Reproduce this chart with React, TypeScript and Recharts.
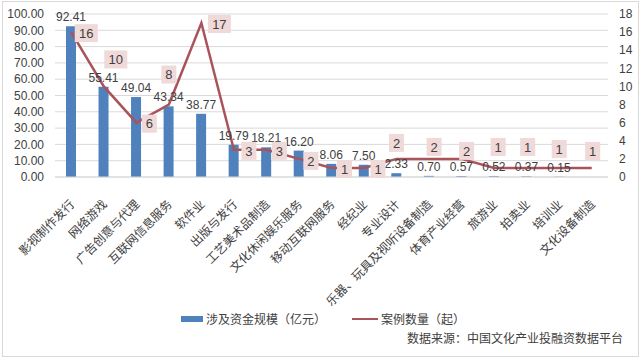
import React from "react";
import { ComposedChart, Bar, Line, XAxis, YAxis, CartesianGrid, LabelList } from "recharts";

const categories = [
  "影视制作发行", "网络游戏", "广告创意与代理", "互联网信息服务", "软件业", "出版与发行",
  "工艺美术品制造", "文化休闲娱乐服务", "移动互联网服务", "经纪业", "专业设计",
  "乐器、玩具及视听设备制造", "体育产业经营", "旅游业", "拍卖业", "培训业", "文化设备制造",
];
const funds = [92.41, 55.41, 49.04, 43.34, 38.77, 19.79, 18.21, 16.2, 8.06, 7.5, 2.33, 0.7, 0.57, 0.52, 0.37, 0.15, 0.0];
const cases = [16, 10, 6, 8, 17, 3, 3, 2, 1, 1, 2, 2, 2, 1, 1, 1, 1];
const leftTicks = [0, 10, 20, 30, 40, 50, 60, 70, 80, 90, 100];
const rightTicks = [0, 2, 4, 6, 8, 10, 12, 14, 16, 18];

// label offsets (style) for the case-count labels
const caseLabelOffsets: [number, number][] = [
  [15, 1], [12, -27], [13, 1], [0, -30], [18, 1], [15, 1], [13, 1], [12, 2], [13, 1], [14, 1],
  [0, -16], [5, -12], [5, -8], [4, -21], [1, -21], [0, -19], [1, -17],
];

const data = categories.map((c, i) => ({ name: c, funds: funds[i], cases: cases[i] }));

const CJK = "'Noto Sans CJK SC', 'Noto Sans', sans-serif";
const NUM = "'Liberation Sans', Arial, sans-serif";

const CatTick = (props: any) => {
  const { x, y, payload } = props;
  const ax = x + 4;
  const ay = y + 28;
  return (
    <text x={ax} y={ay} transform={`rotate(-45, ${ax}, ${ay})`} textAnchor="end" fontSize={12} fill="#404040" fontFamily={CJK}>
      {payload.value}
    </text>
  );
};

const CaseLabel = (props: any) => {
  const { x, y, value, index } = props;
  const off = caseLabelOffsets[index] || [0, 0];
  const cx = x + off[0];
  const cy = y + off[1];
  const s = String(value);
  const w = s.length * 8 + 7;
  const h = 18;
  return (
    <g>
      <rect x={cx - w / 2} y={cy - h / 2} width={w} height={h} fill="#f0d9d9" />
      <text x={cx} y={cy} dy="0.36em" textAnchor="middle" fontSize={13} fill="#404040" fontFamily={NUM}>
        {s}
      </text>
    </g>
  );
};

export default function App() {
  return (
    <div style={{ position: "absolute", left: 0, top: 0, width: 640, height: 357, background: "#fff", overflow: "hidden" }}>
      <div style={{ position: "absolute", left: 2, top: 1, width: 635, height: 354, border: "1px solid #d9d9d9" }} />
      <ComposedChart width={640} height={357} data={data} margin={{ top: 14, right: 0, left: 0, bottom: 0 }}>
        <CartesianGrid vertical={false} stroke="#d9d9d9" yAxisId="left" />
        <XAxis
          dataKey="name"
          interval={0}
          height={180}
          tickSize={0}
          tickMargin={0}
          tickLine={false}
          axisLine={{ stroke: "#d9d9d9" }}
          tick={<CatTick />}
        />
        <YAxis
          yAxisId="left"
          width={55}
          domain={[0, 100]}
          ticks={leftTicks}
          interval={0}
          tickFormatter={(v: number) => v.toFixed(2)}
          axisLine={false}
          tickLine={false}
          tickSize={0}
          tickMargin={11}
          tick={{ fontSize: 12, fill: "#404040", fontFamily: NUM }}
        />
        <YAxis
          yAxisId="right"
          orientation="right"
          width={32}
          domain={[0, 18]}
          ticks={rightTicks}
          interval={0}
          axisLine={false}
          tickLine={false}
          tickSize={0}
          tickMargin={11}
          tick={{ fontSize: 12, fill: "#404040", fontFamily: NUM, textAnchor: "start" }}
        />
        <Bar yAxisId="left" dataKey="funds" fill="#4f81bd" barSize={10} isAnimationActive={false}>
          <LabelList
            dataKey="funds"
            position="top"
            offset={5}
            formatter={(v: any) => Number(v).toFixed(2)}
            style={{ fontSize: 12, fill: "#404040", fontFamily: NUM }}
          />
        </Bar>
        <Line
          yAxisId="right"
          dataKey="cases"
          stroke="#a9535b"
          strokeWidth={2.5}
          dot={false}
          activeDot={false}
          type="linear"
          isAnimationActive={false}
        >
          <LabelList dataKey="cases" content={<CaseLabel />} />
        </Line>
      </ComposedChart>
      <div style={{ position: "absolute", left: 181, top: 316, width: 22, height: 6, background: "#4f81bd" }} />
      <div style={{ position: "absolute", left: 206, top: 310, fontSize: 12, lineHeight: "18px", color: "#404040", fontFamily: CJK, whiteSpace: "nowrap" }}>
        涉及资金规模（亿元）
      </div>
      <div style={{ position: "absolute", left: 352, top: 318, width: 26, height: 2, background: "#a9535b" }} />
      <div style={{ position: "absolute", left: 381, top: 310, fontSize: 12, lineHeight: "18px", color: "#404040", fontFamily: CJK, whiteSpace: "nowrap" }}>
        案例数量（起）
      </div>
      <div style={{ position: "absolute", right: 17, top: 329, fontSize: 12, lineHeight: "18px", color: "#404040", fontFamily: CJK, whiteSpace: "nowrap" }}>
        数据来源：中国文化产业投融资数据平台
      </div>
    </div>
  );
}
